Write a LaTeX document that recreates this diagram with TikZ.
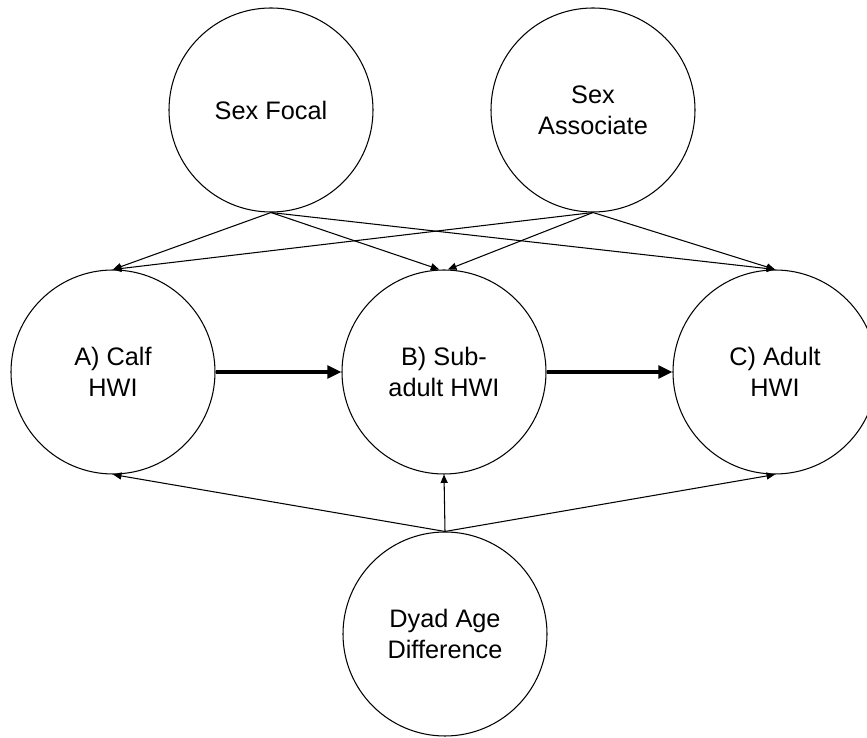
\documentclass[tikz,border=0pt]{standalone}
\usepackage{fontspec}
\setmainfont{Liberation Sans}
\usetikzlibrary{calc,arrows.meta}
\tikzset{
    var node/.style={
        draw,circle,line width=0.75pt,
        fill=white,inner sep=0pt,
        minimum size=5.1cm,align=center,
        font=\fontsize{18}{22}\selectfont
    },
    effect/.style={->,line width=0.75pt},
    main effect/.style={-{Triangle[length=10pt,width=9pt]},line width=2.3pt},
    >={Triangle[length=6pt,width=5pt]}
}
\begin{document}
\begin{tikzpicture}
\useasboundingbox (0,0) rectangle (21.675,18.45);
% top row: sexes
\node[var node] (sexfocal) at (6.775,15.7) {Sex Focal};
\node[var node] (sexassoc) at (14.825,15.7) {Sex\\Associate};
% middle row: HWI by life stage
\node[var node] (calf) at (2.825,9.15) {A) Calf\\HWI};
\node[var node] (subadult) at (11.1,9.15) {B) Sub-\\adult HWI};
\node[var node] (adult) at (19.375,9.15) {C) Adult\\HWI};
% bottom
\node[var node] (agediff) at (11.125,2.6) {Dyad Age\\Difference};
\coordinate (sub_l) at ($(subadult.north)+(-0.12,0)$);
\coordinate (sub_r) at ($(subadult.north)+(0.1,0)$);
\foreach \src/\tgt in {sexfocal/calf.north,sexfocal/sub_l,sexfocal/adult.north,
    sexassoc/calf.north,sexassoc/sub_r,sexassoc/adult.north}
    \draw[effect] (\src.south) -- (\tgt);
\foreach \tgt in {calf,subadult,adult}
    \draw[effect] (agediff.north) -- (\tgt.south);
\draw[main effect] (calf) -- (subadult);
\draw[main effect] (subadult) -- (adult);
\end{tikzpicture}
\end{document}
